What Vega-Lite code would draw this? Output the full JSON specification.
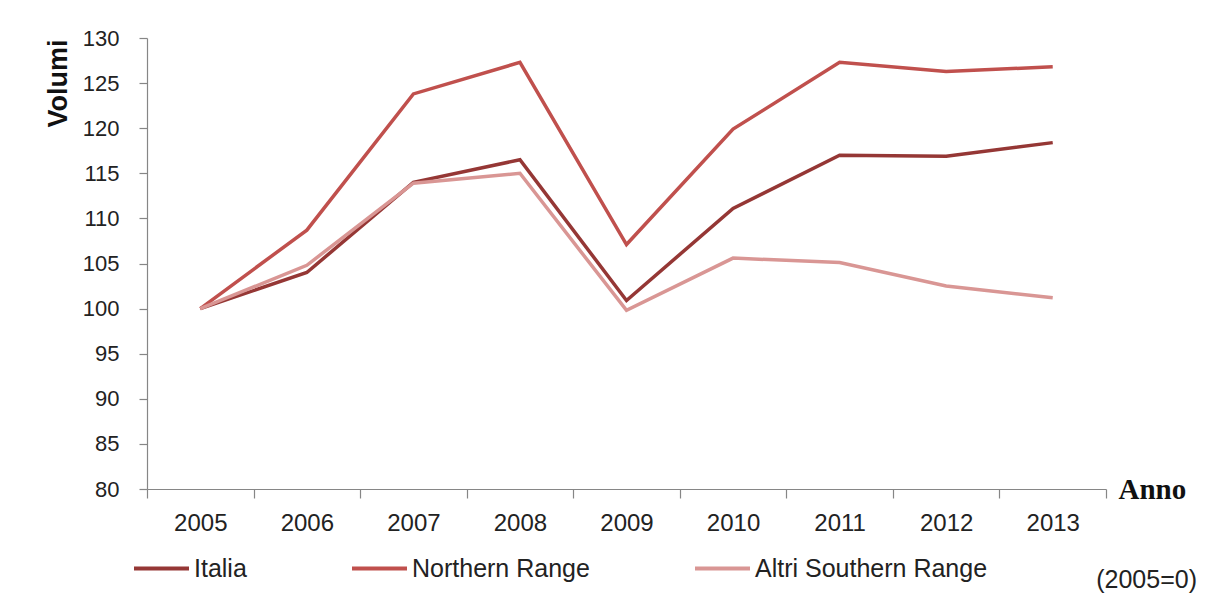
{
  "$schema": "https://vega.github.io/schema/vega-lite/v6.json",
  "width": 959,
  "height": 451,
  "autosize": {"type": "none"},
  "padding": {"left": 147, "top": 38, "right": 102, "bottom": 119},
  "background": "white",
  "title": {
    "text": "(2005=0)",
    "orient": "bottom",
    "anchor": "end",
    "frame": "group",
    "font": "Liberation Sans",
    "fontSize": 25,
    "fontWeight": "normal",
    "color": "#222222",
    "dx": 91,
    "dy": -22,
    "offset": 8
  },
  "data": {
    "values": [
      {"anno": 2005, "serie": "Italia", "v": 100},
      {"anno": 2006, "serie": "Italia", "v": 104.0},
      {"anno": 2007, "serie": "Italia", "v": 114.0},
      {"anno": 2008, "serie": "Italia", "v": 116.5},
      {"anno": 2009, "serie": "Italia", "v": 100.9},
      {"anno": 2010, "serie": "Italia", "v": 111.1},
      {"anno": 2011, "serie": "Italia", "v": 117.0},
      {"anno": 2012, "serie": "Italia", "v": 116.9},
      {"anno": 2013, "serie": "Italia", "v": 118.4},
      {"anno": 2005, "serie": "Northern Range", "v": 100},
      {"anno": 2006, "serie": "Northern Range", "v": 108.7},
      {"anno": 2007, "serie": "Northern Range", "v": 123.8},
      {"anno": 2008, "serie": "Northern Range", "v": 127.3},
      {"anno": 2009, "serie": "Northern Range", "v": 107.1},
      {"anno": 2010, "serie": "Northern Range", "v": 119.9},
      {"anno": 2011, "serie": "Northern Range", "v": 127.3},
      {"anno": 2012, "serie": "Northern Range", "v": 126.3},
      {"anno": 2013, "serie": "Northern Range", "v": 126.8},
      {"anno": 2005, "serie": "Altri Southern Range", "v": 100},
      {"anno": 2006, "serie": "Altri Southern Range", "v": 104.8},
      {"anno": 2007, "serie": "Altri Southern Range", "v": 113.9},
      {"anno": 2008, "serie": "Altri Southern Range", "v": 115.0},
      {"anno": 2009, "serie": "Altri Southern Range", "v": 99.8},
      {"anno": 2010, "serie": "Altri Southern Range", "v": 105.6},
      {"anno": 2011, "serie": "Altri Southern Range", "v": 105.1},
      {"anno": 2012, "serie": "Altri Southern Range", "v": 102.5},
      {"anno": 2013, "serie": "Altri Southern Range", "v": 101.2}
    ]
  },
  "mark": {"type": "line", "strokeWidth": 3.5, "strokeJoin": "miter"},
  "encoding": {
    "x": {
      "field": "anno",
      "type": "quantitative",
      "scale": {"domain": [2004.5, 2013.5], "nice": false, "zero": false},
      "axis": {
        "title": "Anno",
        "titleFont": "Liberation Serif",
        "titleFontSize": 29,
        "titleFontWeight": "bold",
        "titleColor": "#111111",
        "titleAnchor": null,
        "titleX": 971,
        "titleY": 0,
        "titleAlign": "left",
        "titleBaseline": "middle",
        "values": [2004.5, 2005, 2005.5, 2006, 2006.5, 2007, 2007.5, 2008, 2008.5, 2009, 2009.5, 2010, 2010.5, 2011, 2011.5, 2012, 2012.5, 2013, 2013.5],
        "labelExpr": "datum.value % 1 === 0 ? '' + datum.value : ''",
        "labelOverlap": false,
        "labelBound": false,
        "labelFlush": false,
        "tickOpacity": {"expr": "datum.value % 1 === 0 ? 0 : 1"},
        "grid": false,
        "domainColor": "#868686",
        "tickColor": "#868686",
        "domainWidth": 1.2,
        "tickWidth": 1.2,
        "tickSize": 9,
        "labelPadding": 13,
        "labelFont": "Liberation Sans",
        "labelFontSize": 24,
        "labelColor": "#222222"
      }
    },
    "y": {
      "field": "v",
      "type": "quantitative",
      "scale": {"domain": [80, 130], "nice": false, "zero": false},
      "axis": {
        "title": "Volumi",
        "titleFont": "Liberation Sans",
        "titleFontSize": 27,
        "titleFontWeight": "bold",
        "titleColor": "#111111",
        "titleAnchor": null,
        "titleAngle": -90,
        "titleX": -89,
        "titleY": 1,
        "titleAlign": "right",
        "titleBaseline": "middle",
        "values": [80, 85, 90, 95, 100, 105, 110, 115, 120, 125, 130],
        "grid": false,
        "domainColor": "#868686",
        "tickColor": "#868686",
        "domainWidth": 1.2,
        "tickWidth": 1.2,
        "tickSize": 8,
        "labelPadding": 20,
        "labelFont": "Liberation Sans",
        "labelFontSize": 22,
        "labelColor": "#222222"
      }
    },
    "color": {
      "field": "serie",
      "type": "nominal",
      "sort": ["Italia", "Northern Range", "Altri Southern Range"],
      "scale": {
        "domain": ["Italia", "Northern Range", "Altri Southern Range"],
        "range": ["#953735", "#C0504D", "#D99694"]
      },
      "legend": {
        "title": null,
        "orient": "none",
        "direction": "horizontal",
        "columns": 3,
        "gridAlign": "none",
        "legendX": -15,
        "legendY": 501,
        "symbolType": "stroke",
        "symbolSize": 3025,
        "symbolStrokeWidth": 4,
        "labelOffset": 3,
        "columnPadding": 97,
        "labelFont": "Liberation Sans",
        "labelFontSize": 25,
        "labelColor": "#222222",
        "labelLimit": 400
      }
    }
  },
  "config": {"view": {"stroke": null}}
}
